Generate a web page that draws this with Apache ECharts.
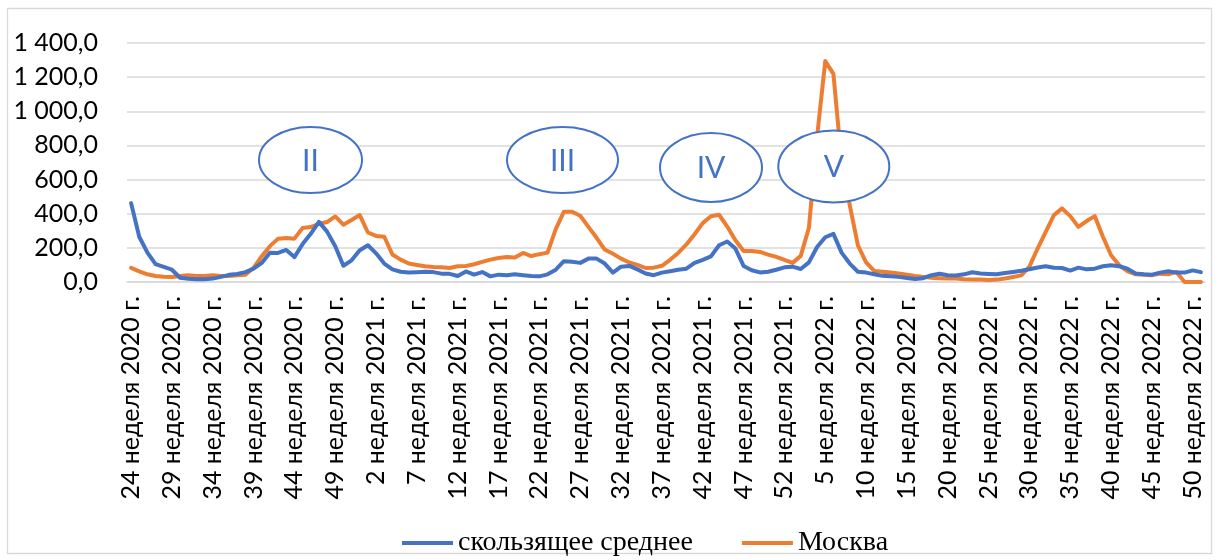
<!DOCTYPE html>
<html><head><meta charset="utf-8">
<script src="https://cdn.jsdelivr.net/npm/echarts@6/dist/echarts.min.js"></script>
<style>html,body{margin:0;padding:0;background:#fff}#c{width:1218px;height:560px}</style>
</head><body><div id="c"></div>
<script>
// Week ranges (year, first week, last week)
const weekRanges = [[2020, 24, 52], [2021, 1, 52], [2022, 1, 51]];
const categories = [];
weekRanges.forEach(([y, a, b]) => { for (let w = a; w <= b; w++) categories.push(w + ' неделя ' + y + ' г.'); });

const seriesNames = ['скользящее среднее', 'Москва'];

const movingAverage = [
  462,265,172,105,88,72,25,19,16,16,
  20,30,42,47,58,78,112,172,170,188,
  146,222,282,352,295,210,95,127,186,215,
  168,108,74,60,55,57,60,58,49,48,
  35,62,43,58,33,43,40,45,40,35,
  33,45,72,122,118,112,137,137,108,55,
  90,94,74,50,40,55,63,72,78,112,
  130,150,215,237,196,94,69,56,60,72,
  86,90,76,115,205,262,282,172,108,60,
  55,45,36,33,30,24,17,22,40,48,
  40,38,45,57,50,47,45,53,59,66,
  75,85,92,83,82,67,84,74,78,92,
  98,92,78,50,45,43,55,63,55,55,
  68,58
];

const moscow = [
  83,62,45,35,31,29,35,39,35,35,
  39,35,35,39,43,83,151,210,254,258,
  254,316,322,341,351,384,336,363,392,290,
  270,265,161,131,108,100,92,88,87,82,
  92,94,104,118,131,141,147,143,170,152,
  163,172,310,412,412,388,323,259,190,165,
  137,114,100,82,84,95,130,170,220,280,
  345,385,394,325,245,182,182,176,160,147,
  130,112,153,318,850,1294,1219,700,450,215,
  115,65,60,56,50,43,35,30,25,22,
  20,20,16,15,14,12,14,20,29,39,
  90,196,294,392,431,386,323,357,386,265,
  157,98,63,45,43,39,49,45,59,0,
  0,0
];

const yMin = 0, yMax = 1400, yStep = 200;
const waveLabels = ['II', 'III', 'IV', 'V'];

function fmt(v) {
  const s = v.toFixed(1).split('.');
  return s[0].replace(/\B(?=(\d{3})+(?!\d))/g, ' ') + ',' + s[1];
}

const BLUE = '#4472C4', ORANGE = '#ED7D31';
const ellipseGeom = [
  {cx: 310.5, cy: 160, rx: 51.5, ry: 33},
  {cx: 562.5, cy: 160, rx: 55.5, ry: 33},
  {cx: 711, cy: 167.5, rx: 51, ry: 34.5},
  {cx: 833.8, cy: 166.5, rx: 55.5, ry: 36}
];
const graphics = [{
  type: 'rect', shape: {x: 7.5, y: 8.5, width: 1204, height: 545},
  style: {fill: 'none', stroke: '#d9d9d9', lineWidth: 1.3}, silent: true, z: -1
}];
waveLabels.forEach((t, k) => {
  const g = ellipseGeom[k];
  graphics.push({type: 'ellipse', shape: {cx: g.cx, cy: g.cy, rx: g.rx, ry: g.ry},
    style: {fill: '#fff', stroke: BLUE, lineWidth: 2}, z: 100});
  graphics.push({type: 'text', x: g.cx, y: g.cy + 1,
    style: {text: t, fill: BLUE, fontSize: 30, fontFamily: 'Lato', align: 'center', verticalAlign: 'middle'}, z: 101});
});

const chart = echarts.init(document.getElementById('c'), null, {renderer: 'canvas'});
chart.setOption({
  animation: false,
  backgroundColor: '#fff',
  grid: {left: 127, right: 13, top: 43, bottom: 278},
  xAxis: {
    type: 'category', data: categories, boundaryGap: true,
    axisLine: {show: true, lineStyle: {color: '#d9d9d9', width: 1.5}},
    axisTick: {show: false},
    axisLabel: {interval: 4, rotate: 90, margin: 14, color: '#000', fontFamily: 'Lato', fontSize: 25}
  },
  yAxis: {
    type: 'value', min: yMin, max: yMax, interval: yStep,
    axisLine: {show: false}, axisTick: {show: false},
    splitLine: {lineStyle: {color: '#d9d9d9', width: 1.5}},
    axisLabel: {formatter: fmt, margin: 29, color: '#000', fontFamily: 'Lato', fontSize: 25}
  },
  legend: {
    left: 397, top: 524, itemWidth: 51, itemHeight: 4, itemGap: 49, icon: 'rect',
    textStyle: {fontFamily: 'Liberation Serif', fontSize: 28, color: '#000'},
    data: seriesNames
  },
  series: [
    {name: seriesNames[0], type: 'line', data: movingAverage, symbol: 'none', smooth: false,
      itemStyle: {color: BLUE}, lineStyle: {color: BLUE, width: 4, cap: 'round', join: 'round'}, z: 3},
    {name: seriesNames[1], type: 'line', data: moscow, symbol: 'none', smooth: false,
      itemStyle: {color: ORANGE}, lineStyle: {color: ORANGE, width: 4, cap: 'round', join: 'round'}, z: 2}
  ],
  graphic: graphics
});
</script></body></html>
